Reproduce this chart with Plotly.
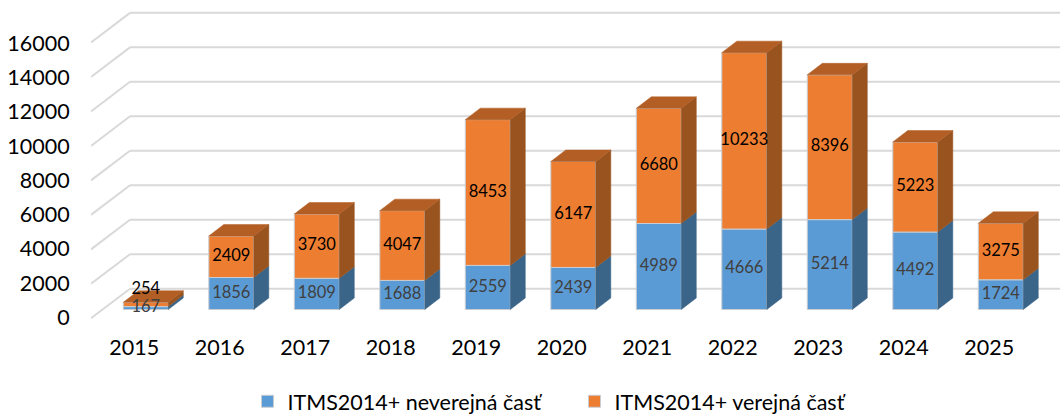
import plotly.graph_objects as go

years = [2015, 2016, 2017, 2018, 2019, 2020, 2021, 2022, 2023, 2024, 2025]
neverejna = [167, 1856, 1809, 1688, 2559, 2439, 4989, 4666, 5214, 4492, 1724]
verejna = [254, 2409, 3730, 4047, 8453, 6147, 6680, 10233, 8396, 5223, 3275]
y_ticks = [0, 2000, 4000, 6000, 8000, 10000, 12000, 14000, 16000]

BLUE, BLUE_SIDE = "#5B9BD5", "#3A6488"
ORANGE, ORANGE_TOP, ORANGE_SIDE = "#ED7D31", "#B25E24", "#98531E"
GRID = "#D9D9D9"
EDGE = "#C9CDD2"

PX_PER_YEAR = 85.5
PX_PER_UNIT = 0.01724
BAR_W = 45 / PX_PER_YEAR
DX = 15 / PX_PER_YEAR        # bar depth, x
DY = 11.5 / PX_PER_UNIT      # bar depth, y
X0 = 2015 - 54.8 / PX_PER_YEAR
X1 = 2015 + (1060 - 145.8) / PX_PER_YEAR
WALL_X = 2015 - 15.8 / PX_PER_YEAR
BACK_DY = 20.8 / PX_PER_UNIT
FRONT_DY = -8.8 / PX_PER_UNIT

fig = go.Figure()
fig.add_bar(x=years, y=neverejna, width=BAR_W, name="ITMS2014+ neverejná časť",
            marker=dict(color=BLUE, line=dict(color=EDGE, width=1)))
fig.add_bar(x=years, y=verejna, base=neverejna, width=BAR_W, name="ITMS2014+ verejná časť",
            marker=dict(color=ORANGE, line=dict(color=EDGE, width=1)))


def poly(xs, ys, color):
    fig.add_scatter(x=xs, y=ys, mode="lines", fill="toself", fillcolor=color,
                    line=dict(color=color, width=0.5), showlegend=False, hoverinfo="skip")


for yr, a, b in zip(years, neverejna, verejna):
    r = yr + BAR_W / 2
    l = yr - BAR_W / 2
    t = a + b
    poly([r, r + DX, r + DX, r, r], [0, DY, a + DY, a, 0], BLUE_SIDE)
    poly([r, r + DX, r + DX, r, r], [a, a + DY, t + DY, t, a], ORANGE_SIDE)
    poly([l, r, r + DX, l + DX, l], [t, t, t + DY, t + DY, t], ORANGE_TOP)

fig.add_scatter(x=years, y=[a / 2 for a in neverejna], mode="text",
                text=[str(a) for a in neverejna], textposition="middle center",
                textfont=dict(family="Lato", size=16.5, color="#404040"),
                showlegend=False, hoverinfo="skip")
label_y = [a + b / 2 for a, b in zip(neverejna, verejna)]
label_y[0] += 15 / PX_PER_UNIT   # the 2015 label sits above its thin bar
fig.add_scatter(x=years, y=label_y, mode="text",
                text=[str(b) for b in verejna], textposition="middle center",
                textfont=dict(family="Lato", size=16.5, color="#000000"),
                showlegend=False, hoverinfo="skip")

shapes = []
for v in y_ticks:
    back = v + BACK_DY
    shapes.append(dict(type="line", xref="x", yref="y", x0=WALL_X, x1=X1, y0=back, y1=back,
                       line=dict(color=GRID, width=2), layer="below"))
    shapes.append(dict(type="line", xref="x", yref="y", x0=X0, x1=WALL_X, y0=v + FRONT_DY, y1=back,
                       line=dict(color=GRID, width=2), layer="below"))

fig.update_layout(
    width=1060, height=414, barmode="overlay", shapes=shapes,
    margin=dict(l=91, r=0, t=0, b=94, autoexpand=False),
    paper_bgcolor="white", plot_bgcolor="white",
    font=dict(family="Lato", size=21.5, color="#000000"),
    xaxis=dict(range=[X0, X1], tickmode="array",
               tickvals=[y - 11.5 / PX_PER_YEAR for y in years], ticktext=[str(y) for y in years],
               showgrid=False, zeroline=False, showline=False,
               ticks="outside", ticklen=8, tickcolor="rgba(0,0,0,0)"),
    yaxis=dict(range=[-609, 17952], tickmode="array",
               tickvals=[v * 0.9933 - 452 for v in y_ticks], ticktext=[str(v) for v in y_ticks],
               showgrid=False, zeroline=False, showline=False,
               ticks="outside", ticklen=16, tickcolor="rgba(0,0,0,0)"),
    legend=dict(orientation="h", xref="paper", yref="paper", x=0.1615, xanchor="left",
                y=-0.19, yanchor="top", font=dict(family="Lato", size=21.5),
                entrywidth=282, entrywidthmode="pixels",
                traceorder="normal", bgcolor="rgba(0,0,0,0)"),
)
fig.write_html("out.html", config=dict(displayModeBar=False),
               post_script="document.body.style.margin='0';document.body.style.overflow='hidden';")
